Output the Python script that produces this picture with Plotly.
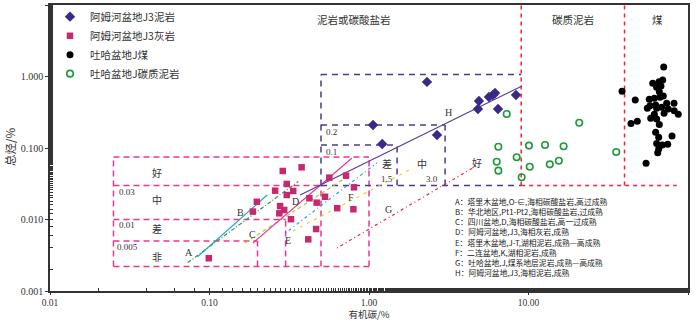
import numpy as np
import plotly.graph_objects as go

# ---------------- data ----------------
mud_toc = [2.31, 1.06, 1.21, 2.67, 4.89, 4.82, 5.65, 5.98, 6.17, 6.44, 8.35]
mud_hc = [0.84, 0.21, 0.114, 0.152, 0.454, 0.351, 0.516, 0.551, 0.588, 0.351, 0.551]

lime_toc = [0.378, 0.288, 0.305, 0.258, 0.305, 0.335, 0.198, 0.187, 0.277, 0.294, 0.274, 0.324,
            0.423, 0.470, 0.530, 0.564, 0.718, 0.805, 0.632, 0.798, 0.466, 0.416, 0.099]
lime_hc = [0.0537, 0.0477, 0.0314, 0.0253, 0.0220, 0.0251, 0.0177, 0.0129, 0.0154, 0.0136, 0.0122, 0.0101,
           0.0198, 0.0172, 0.0208, 0.0385, 0.0410, 0.0282, 0.0144, 0.0139, 0.00736, 0.00528, 0.00287]

coal_toc = [70.4, 38.6, 46.7, 43.9, 48.1, 60.1, 65.8, 69.4, 63.6, 67.7, 66.1, 61.5, 66.7, 70.0, 57.2,
            73.5, 62.7, 57.8, 68.4, 55.6, 63.6, 75.2, 81.7, 82.0, 70.8, 61.5, 86.9, 58.4, 63.6, 66.1,
            62.7, 65.5, 79.4, 63.6, 69.0, 74.6, 65.5, 64.6, 54.6]
coal_hc = [1.36, 0.621, 0.469, 0.221, 0.236, 0.803, 0.846, 0.893, 0.706, 0.736, 0.613, 0.496, 0.512, 0.533, 0.480,
           0.422, 0.399, 0.391, 0.371, 0.359, 0.359, 0.351, 0.422, 0.333, 0.306, 0.296, 0.296, 0.260, 0.255, 0.214,
           0.166, 0.141, 0.147, 0.116, 0.110, 0.113, 0.0968, 0.0860, 0.0611]

cmud_toc = [7.30, 6.47, 6.32, 6.47, 8.43, 9.06, 10.07, 10.18, 12.7, 13.6, 15.5, 16.6, 20.8, 35.5]
cmud_hc = [0.299, 0.104, 0.0643, 0.0482, 0.0741, 0.0389, 0.108, 0.0548, 0.110, 0.0591, 0.0664, 0.106, 0.226, 0.088]

series_names = ["阿姆河盆地J3泥岩", "阿姆河盆地J3灰岩", "吐哈盆地J煤", "吐哈盆地J碳质泥岩"]

# trend lines A-H : start / end (TOC, HC)
trend_names = ["A", "B", "C", "D", "E", "F", "G", "H"]
trend_toc0 = [0.073, 0.084, 0.167, 0.187, 0.30, 0.333, 0.63, 0.37]
trend_hc0 = [0.0025, 0.003, 0.0047, 0.0047, 0.0065, 0.0069, 0.004, 0.022]
trend_toc1 = [0.36, 0.23, 0.76, 0.78, 1.12, 1.89, 4.69, 9.1]
trend_hc1 = [0.034, 0.022, 0.042, 0.072, 0.062, 0.0525, 0.056, 0.736]
trend_notes = [
    "A：塔里木盆地,O-∈,海相碳酸盐岩,高过成熟",
    "B：华北地区,Pt1-Pt2,海相碳酸盐岩,过成熟",
    "C：四川盆地,D,海相碳酸盐岩,高一过成熟",
    "D：阿姆河盆地,J3,海相灰岩,成熟",
    "E：塔里木盆地,J-T,湖相泥岩,成熟—高成熟",
    "F：二连盆地,K,湖相泥岩,成熟",
    "G：吐哈盆地,J,煤系地层泥岩,成熟—高成熟",
    "H：阿姆河盆地,J3,海相泥岩,成熟",
]

# evaluation boundaries (TOC x-pairs, HC y-pairs)
carb_seg_x = [(0.025, 1.0), (0.025, 0.5), (0.025, 0.3), (0.025, 0.2), (0.025, 1.0),
              (0.025, 0.025), (0.2, 0.2), (0.3, 0.3), (0.5, 0.5), (1.0, 1.0)]
carb_seg_y = [(0.075, 0.075), (0.03, 0.03), (0.01, 0.01), (0.005, 0.005), (0.0022, 0.0022),
              (0.0022, 0.075), (0.0022, 0.005), (0.0022, 0.01), (0.0022, 0.03), (0.0022, 0.075)]
mud_seg_x = [(0.5, 9.0), (0.5, 9.0), (0.5, 0.5), (0.5, 3.0), (3.0, 3.0), (0.5, 1.5), (1.5, 1.5)]
mud_seg_y = [(1.07, 1.07), (0.03, 0.03), (0.03, 1.07), (0.21, 0.21), (0.03, 0.21), (0.11, 0.11), (0.03, 0.11)]
lith_seg_x = [(9.0, 9.0), (40.0, 40.0), (9.0, 85.0)]
lith_seg_y = [(0.03, 10.0), (0.03, 10.0), (0.03, 0.03)]

x_tickvals = [0.01, 0.1, 1, 10, 100]
x_ticktext = ["0.01", "0.10", "1.00", "10.00", "100.00"]
y_tickvals = [0.001, 0.01, 0.1, 1, 10]
y_ticktext = ["0.001", "0.010", "0.100", "1.000", "10.000"]

# ---------------- layout helpers ----------------
W, H = 700, 321
L, R, T, B = 50, 12, 5, 30
PW, PH = W - L - R, H - T - B
SERIF = "Liberation Serif, Noto Sans CJK SC"
CJK = "Noto Sans CJK SC"

def pp(px, py):
    return (px - L) / PW, (H - B - py) / PH

fig = go.Figure()

def seg_traces(xs, ys, color, dash, width=1.5):
    for sx, sy in zip(xs, ys):
        fig.add_trace(go.Scatter(x=list(sx), y=list(sy), mode="lines", showlegend=False, hoverinfo="skip",
                                 line=dict(color=color, dash=dash, width=width)))

seg_traces(carb_seg_x, carb_seg_y, "#e8388c", "6px,4px")
seg_traces(mud_seg_x, mud_seg_y, "#4b3a92", "6px,5px")
seg_traces(lith_seg_x, lith_seg_y, "#e8282c", "4px,4px")

trend_colors = ["#2e9e48", "#1ea0dc", "#a8cc3c", "#e8388c", "#1ea0dc", "#f0d020", "#e8282c", "#5a3c9c"]
trend_dash = ["4px,2px,1px,2px", "solid", "4px,3px", "solid", "1px,3px,3px,3px", "3px,5px", "1px,3px,3px,3px", "solid"]
for i in range(len(trend_names)):
    fig.add_trace(go.Scatter(x=[trend_toc0[i], trend_toc1[i]], y=[trend_hc0[i], trend_hc1[i]], mode="lines",
                             showlegend=False, hoverinfo="skip",
                             line=dict(color=trend_colors[i], dash=trend_dash[i], width=1.2)))

fig.add_trace(go.Scatter(x=mud_toc, y=mud_hc, mode="markers", name=series_names[0],
                         marker=dict(symbol="diamond", size=8, color="#3b2a85")))
fig.add_trace(go.Scatter(x=lime_toc, y=lime_hc, mode="markers", name=series_names[1],
                         marker=dict(symbol="square", size=6.5, color="#c8286e")))
fig.add_trace(go.Scatter(x=coal_toc, y=coal_hc, mode="markers", name=series_names[2],
                         marker=dict(symbol="circle", size=7, color="#000000")))
fig.add_trace(go.Scatter(x=cmud_toc, y=cmud_hc, mode="markers", name=series_names[3],
                         marker=dict(symbol="circle-open", size=6.5, color="#1e9a3c", line=dict(width=1.6))))

ann = []
def txt(s, px, py, size=10.5, font=CJK, xanchor="center", angle=0, color="#333333", yanchor="middle", pad=1):
    x, y = pp(px, py)
    ann.append(dict(text=s, x=x, y=y, xref="paper", yref="paper", xanchor=xanchor, yanchor=yanchor,
                    showarrow=False, textangle=angle, align="left", borderpad=pad,
                    font=dict(size=size, family=font, color=color)))

txt("泥岩或碳酸盐岩", 354, 20)
txt("碳质泥岩", 573, 20)
txt("煤", 657, 20)
for s, py in zip(["好", "中", "差", "非"], [172, 199, 228, 256]):
    txt(s, 157, py, size=10)
txt("0.03", 117, 192, size=9, font=SERIF, xanchor="left")
txt("0.01", 117, 225, size=9, font=SERIF, xanchor="left")
txt("0.005", 115, 247, size=9, font=SERIF, xanchor="left")
txt("0.2", 324, 132, size=9, font=SERIF, xanchor="left")
txt("0.1", 324, 152, size=9, font=SERIF, xanchor="left")
txt("1.5", 387, 179, size=9, font=SERIF)
txt("3.0", 432, 179, size=9, font=SERIF)
txt("差", 387, 163, size=10)
txt("中", 422, 163, size=10)
txt("好", 477, 162, size=10)
for s, (px, py) in zip(trend_names, [(189, 253), (240, 212), (252, 234), (295, 202), (288, 240),
                                     (351, 197), (388, 209), (448, 112)]):
    txt(s, px, py, size=10, font=SERIF)
txt("<br>".join(trend_notes), 453, 237, size=7.8, xanchor="left", color="#222222")
txt("总烃/%", 10, 147, size=11.5, angle=-90)

axis_common = dict(type="log", showgrid=False, zeroline=False, showline=True, linecolor="#333333",
                   linewidth=1.5, mirror=True, ticks="outside", tickwidth=1.2, tickcolor="#333333",
                   automargin=False,
                   minor=dict(ticks="inside", ticklen=3, tickcolor="#333333", showgrid=False))

fig.update_layout(
    width=W, height=H, margin=dict(l=L, r=R, t=T, b=B, autoexpand=False),
    paper_bgcolor="white", plot_bgcolor="white",
    xaxis=dict(range=[-2, 2], tickvals=x_tickvals, ticktext=x_ticktext, ticklen=2,
               tickfont=dict(family=SERIF, size=9.5, color="#333333"),
               title=dict(text="有机碳/%", standoff=1, font=dict(family=CJK, size=9.5, color="#333333")),
               **axis_common),
    yaxis=dict(range=[-3, 1], tickvals=y_tickvals, ticktext=y_ticktext, ticklen=3,
               tickfont=dict(family=SERIF, size=10, color="#333333"), **axis_common),
    legend=dict(x=0.0, y=1.01, xanchor="left", yanchor="top", bgcolor="rgba(0,0,0,0)",
                font=dict(family=CJK, size=10.5, color="#333333"), tracegroupgap=0, itemwidth=30),
    annotations=ann,
    showlegend=True,
)

fig.write_html("out.html", config={"displayModeBar": False},
               post_script="document.body.style.margin='0';document.body.style.overflow='hidden';")
